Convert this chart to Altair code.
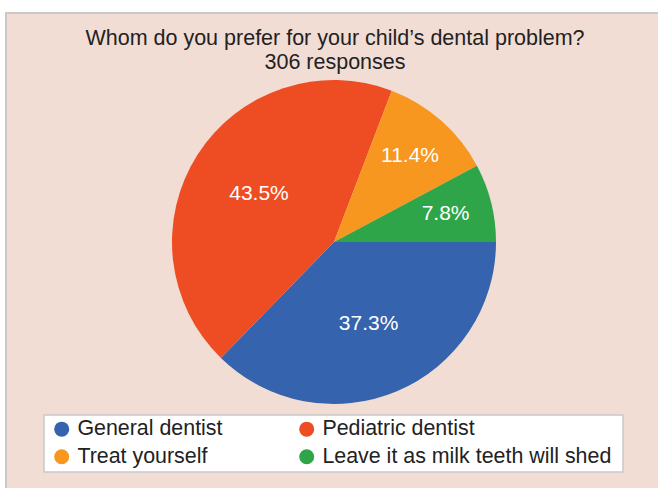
import math
import altair as alt
import pandas as pd

# Survey answers, in the order the slices run clockwise from 3 o'clock
answers = [
    "General dentist",
    "Pediatric dentist",
    "Treat yourself",
    "Leave it as milk teeth will shed",
]
shares = [37.3, 43.5, 11.4, 7.8]
labels = ["37.3%", "43.5%", "11.4%", "7.8%"]
colors = ["#3563ae", "#ee4d23", "#f7971f", "#2ea548"]

title_lines = ["Whom do you prefer for your child\u2019s dental problem?", "306 responses"]

W, H = 658, 488
CX, CY, R = 334, 242, 162
FONT = "Liberation Sans"
PINK = "#f2ddd5"
GREY = "#c9c9c9"

df = pd.DataFrame({
    "answer": answers,
    "share": shares,
    "label": labels,
    "rank": list(range(len(answers))),
})

theta_scale = alt.Scale(range=[math.pi / 2, math.pi / 2 + 2 * math.pi])
color_scale = alt.Scale(domain=answers, range=colors)

base = alt.Chart(df).encode(
    theta=alt.Theta("share:Q", stack=True, scale=theta_scale),
    order=alt.Order("rank:O"),
)

one_row = pd.DataFrame({"k": [0]})

# Pink card behind everything
frame = alt.Chart(one_row).mark_rect(
    fill=PINK, stroke=GREY, strokeWidth=2
).encode(
    x=alt.value(6), x2=alt.value(W + 20),
    y=alt.value(13), y2=alt.value(H + 20),
)

# White box that holds the legend
legend_box = alt.Chart(one_row).mark_rect(
    fill="white", stroke=GREY, strokeWidth=1.5
).encode(
    x=alt.value(44), x2=alt.value(623),
    y=alt.value(415), y2=alt.value(472),
)

pie = base.mark_arc(radius=R).encode(
    x=alt.value(CX),
    y=alt.value(CY),
    color=alt.Color(
        "answer:N",
        scale=color_scale,
        legend=alt.Legend(
            title=None,
            orient="none",
            legendX=51,
            legendY=418,
            direction="horizontal",
            columns=2,
            columnPadding=73,
            rowPadding=5,
            padding=0,
            symbolType="circle",
            symbolSize=225,
            symbolStrokeWidth=0,
            labelFont=FONT,
            labelFontSize=21.4,
            labelColor="#222222",
            labelOffset=5,
            labelLimit=400,
        ),
    ),
)

# Percent labels: big slices sit closer to the centre than thin ones
def slice_labels(condition, r):
    return base.mark_text(
        font=FONT, fontSize=21, color="white", align="center", baseline="middle",
        radius=r,
    ).transform_calculate(
        shown=f"{condition} ? datum.label : ''"
    ).encode(
        x=alt.value(CX),
        y=alt.value(CY),
        text="shown:N",
    )

big_text = slice_labels("datum.share > 20", 89)
small_text = slice_labels("datum.share <= 20", 115)

title_df = pd.DataFrame({"line": title_lines, "row": [0, 1]})
title = alt.Chart(title_df).mark_text(
    font=FONT, fontSize=21.5, color="#222222", align="center", baseline="alphabetic"
).encode(
    x=alt.value(335),
    y=alt.Y("row:Q", scale=alt.Scale(domain=[0, 1], range=[45, 69]), axis=None),
    text="line:N",
)

chart = alt.layer(frame, legend_box, pie, big_text, small_text, title).properties(
    width=W, height=H, autosize=alt.AutoSizeParams(type="none"), padding=0,
    background="white",
).configure_view(stroke=None)

chart.save("out.html", embed_options={"renderer": "svg", "actions": False})
